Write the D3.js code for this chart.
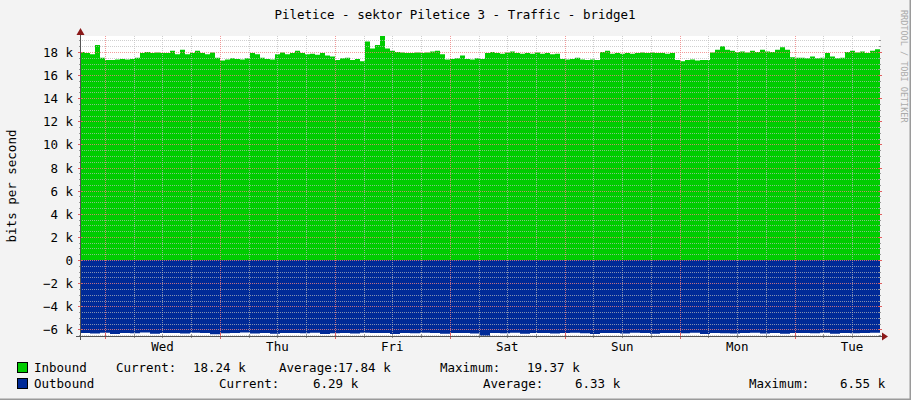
<!DOCTYPE html>
<html><head><meta charset="utf-8">
<script src="https://cdn.jsdelivr.net/npm/d3@7"></script>
<style>body{margin:0;background:#f3f3f3}svg{display:block}text{font-family:"DejaVu Sans Mono",monospace;font-size:12.5px;fill:#000}</style>
</head><body><svg id="c" width="911" height="400"></svg>
<script>
const title = "Piletice - sektor Piletice 3 - Traffic - bridge1";
const dayLabels = ["Wed","Thu","Fri","Sat","Sun","Mon","Tue"];
const yTicks = [-6000,-4000,-2000,0,2000,4000,6000,8000,10000,12000,14000,16000,18000];
const inbound = [18.0,17.9,17.8,18.6,17.5,17.3,17.3,17.35,17.4,17.35,17.4,17.5,17.9,18.0,17.9,17.95,17.9,17.9,18.1,17.8,18.2,17.8,17.9,18.1,17.9,17.8,17.95,17.5,17.25,17.35,17.45,17.4,17.35,17.45,17.9,17.8,17.5,17.4,17.35,17.8,17.95,17.8,17.9,18.1,17.9,17.8,17.85,17.75,17.9,17.7,17.6,17.3,17.45,17.5,17.3,17.4,17.2,18.9,18.3,18.6,19.37,18.3,18.1,18.0,17.95,17.9,17.9,17.95,17.9,17.95,18.05,18.1,17.8,17.35,17.4,17.45,17.7,17.4,17.35,17.45,
17.4,17.9,18.0,17.9,17.85,17.95,18.05,17.9,17.85,17.9,17.85,17.95,17.85,17.9,17.8,17.85,17.4,17.35,17.4,17.5,17.35,17.3,17.35,17.3,18.0,18.1,17.85,17.9,17.85,17.9,17.85,17.9,17.95,17.9,17.95,17.9,17.9,17.85,17.9,17.3,17.2,17.3,17.35,17.25,17.3,17.3,17.95,18.2,18.5,18.2,18.1,18.0,18.05,17.95,18.1,18.0,18.2,18.05,18.0,18.2,18.4,18.2,17.55,17.5,17.5,17.45,17.6,17.45,17.5,17.9,17.6,17.45,17.5,18.0,18.1,17.95,18.05,17.9,18.1,18.24];
const outbound = [6.3,6.35,6.28,6.4,6.3,6.33,6.27,6.38,6.3,6.32,6.36,6.29,6.3,6.41,6.33,6.3,6.27,6.35,6.3,6.38,6.31,6.3,6.34,6.28,6.4,6.33,6.3,6.36,6.29,6.32,6.3,6.39,6.3,6.34,6.28,6.3,6.37,6.31,6.3,6.35,6.55,6.3,6.33,6.29,6.38,6.3,6.32,6.36,6.3,6.28,6.34,6.4,6.3,6.31,6.35,6.29,6.3,6.37,6.32,6.3,6.34,6.28,6.39,6.3,6.33,6.36,6.3,6.29,6.35,6.3,6.38,6.31,6.3,6.34,6.28,6.37,6.3,6.33,6.3,6.29];
const legendRows = [
  {name:"Inbound", color:"#00cc00", items:[["Current:",116],["18.24 k",193],["Average:",279],["17.84 k",338],["Maximum:",440],["19.37 k",527]]},
  {name:"Outbound", color:"#002a97", items:[["Current:",219],["6.29 k",313],["Average:",483],["6.33 k",575],["Maximum:",749],["6.55 k",840]]}
];

const svg = d3.select("#c");
const L=80,R=880,T=36,B=336;
svg.append("rect").attr("width",911).attr("height",400).attr("fill","#f3f3f3");
svg.append("path").attr("d","M910.5,0V399.5H0").attr("stroke","#9a9a9a").attr("stroke-width",2).attr("fill","none");
const y = d3.scaleLinear().domain([-6570,19380]).range([B,T]);
const x = d3.scaleLinear().domain([0,6.96]).range([L,R]); // days from start
const dayOff = 25/115; // first midnight offset (days)
svg.append("rect").attr("x",L).attr("y",T).attr("width",R-L).attr("height",B-T).attr("fill","#fff");

const nIn = inbound.length, nOut = outbound.length;
const xi = d3.scaleLinear().domain([0,nIn]).range([0,6.96]);
const xo = d3.scaleLinear().domain([0,nOut]).range([0,6.96]);
const inD = inbound.concat([inbound[nIn-1]]);
const outD = outbound.concat([outbound[nOut-1]]);
svg.append("path").attr("fill","#00cc00").attr("d",d3.area().curve(d3.curveStepAfter)
  .x((d,i)=>x(xi(i))).y0(y(0)).y1(d=>y(d*1000))(inD));
svg.append("path").attr("fill","#002a97").attr("d",d3.area().curve(d3.curveStepAfter)
  .x((d,i)=>x(xo(i))).y0(y(0)).y1(d=>y(-d*1000))(outD));

const g = svg.append("g");
// horizontal minor grid
d3.range(-6500,19500,500).forEach(v=>{
  if(v%2000===0) return;
  g.append("line").attr("x1",L).attr("x2",R).attr("y1",Math.round(y(v))+.5).attr("y2",Math.round(y(v))+.5)
   .attr("stroke","#bbb").attr("stroke-opacity",0.7).attr("stroke-dasharray","1,1");
});
// vertical minor grid (6h)
for(let k=-1;k<29;k++){const t=dayOff+k*0.25; if(t<=0||t>=6.96||k%4===0) continue;
  const px=Math.round(x(t))+.5;
  g.append("line").attr("x1",px).attr("x2",px).attr("y1",T).attr("y2",B).attr("stroke","#bbb").attr("stroke-opacity",0.7).attr("stroke-dasharray","1,1");
  g.append("line").attr("x1",px).attr("x2",px).attr("y1",B-2).attr("y2",B+2).attr("stroke","#999");
}
yTicks.forEach(v=>{
  const py=Math.round(y(v))+.5;
  g.append("line").attr("x1",L).attr("x2",R).attr("y1",py).attr("y2",py).attr("stroke","#f08080").attr("stroke-opacity",0.8).attr("stroke-dasharray","1,1");
  g.append("line").attr("x1",L-2).attr("x2",L+2).attr("y1",py).attr("y2",py).attr("stroke","#e06060");
  g.append("line").attr("x1",R-2).attr("x2",R+2).attr("y1",py).attr("y2",py).attr("stroke","#e06060");
  svg.append("text").attr("x",73).attr("y",py+4.5).attr("text-anchor","end").text(v===0?"0":d3.format("d")(v/1000)+" k");
});
d3.range(-6500,19500,500).forEach(v=>{ if(v%2000===0)return; const py=Math.round(y(v))+.5;
  g.append("line").attr("x1",L-1).attr("x2",L+1).attr("y1",py).attr("y2",py).attr("stroke","#999");
  g.append("line").attr("x1",R-1).attr("x2",R+1).attr("y1",py).attr("y2",py).attr("stroke","#999");});
dayLabels.forEach((d,k)=>{
  const px=Math.round(x(dayOff+k))+.5;
  g.append("line").attr("x1",px).attr("x2",px).attr("y1",T).attr("y2",B).attr("stroke","#f08080").attr("stroke-opacity",0.8).attr("stroke-dasharray","1,1");
  g.append("line").attr("x1",px).attr("x2",px).attr("y1",B-3).attr("y2",B+3).attr("stroke","#e06060");
  svg.append("text").attr("x",x(dayOff+k+0.5)).attr("y",351).attr("text-anchor","middle").text(d);
});
// axes
svg.append("line").attr("x1",L+.5).attr("x2",L+.5).attr("y1",33).attr("y2",B+4).attr("stroke","#555");
svg.append("line").attr("x1",L-4).attr("x2",R+3).attr("y1",B+.5).attr("y2",B+.5).attr("stroke","#555");
svg.append("path").attr("d",`M${L-3.5},35L${L+4.5},35L${L+.5},28Z`).attr("fill","#8b1a1a");
svg.append("path").attr("d",`M${R+2},${B-3.5}L${R+2},${B+4.5}L${R+8},${B+.5}Z`).attr("fill","#8b1a1a");

svg.append("text").attr("x",455).attr("y",19).attr("text-anchor","middle").text(title);
svg.append("text").attr("transform","translate(16,186) rotate(-90)").attr("text-anchor","middle").text("bits per second");
svg.append("text").attr("transform","translate(901,10) rotate(90)").attr("fill","#999").style("fill","#aaa").style("font-size","8.5px").text("RRDTOOL / TOBI OETIKER");

legendRows.forEach((r,i)=>{
  const yy=372+i*16;
  svg.append("rect").attr("x",17.5).attr("y",yy-9.5).attr("width",10).attr("height",10).attr("fill",r.color).attr("stroke","#000");
  svg.append("text").attr("x",34).attr("y",yy).text(r.name);
  r.items.forEach(([t,px])=>svg.append("text").attr("x",px).attr("y",yy).text(t));
});
</script></body></html>
